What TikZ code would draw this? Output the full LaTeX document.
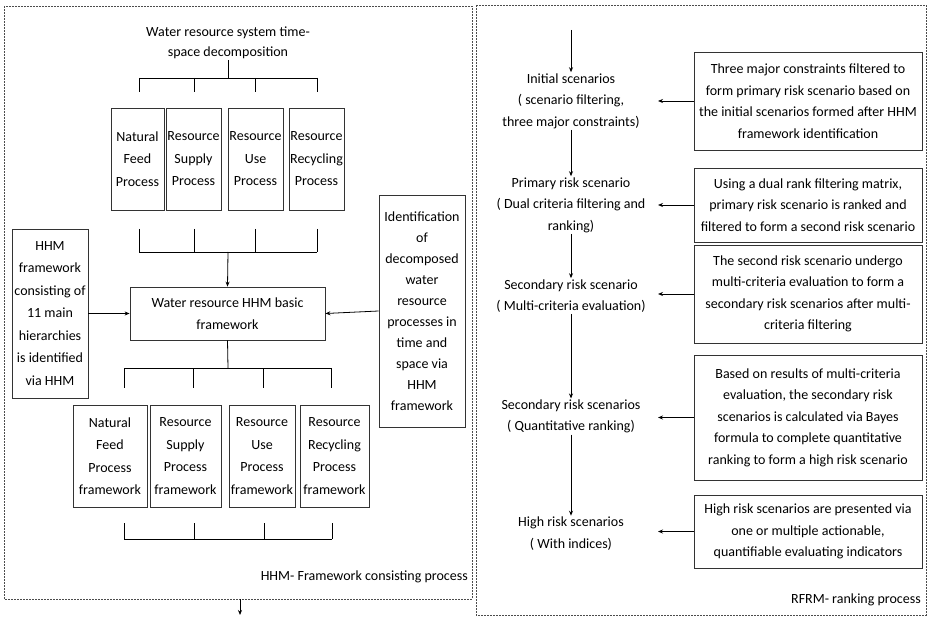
\documentclass[tikz,border=0pt]{standalone}
\usepackage{fontspec}
\setmainfont{Carlito}
\usetikzlibrary{arrows.meta}

\tikzset{
  hbox/.style={draw=black!80, line width=0.8pt, align=center, inner sep=1pt, font=\fontsize{14}{22.5}\selectfont},
  rbox/.style={draw=black!80, line width=0.8pt, align=center, inner sep=1pt, minimum width=228pt, font=\fontsize{14}{21.5}\selectfont},
  scen/.style={align=center, inner sep=1pt, font=\fontsize{14}{21.5}\selectfont},
  arr/.style={-{Stealth[length=5pt,width=4pt]}, line width=0.8pt, draw=black},
  frame/.style={draw=black!70, line width=0.5pt, dash pattern=on 2pt off 1pt},
  tick/.style={line width=0.8pt, draw=black},
}

\begin{document}
\begin{tikzpicture}[x=1pt,y=-1pt,font=\fontsize{14}{21}\selectfont]
\useasboundingbox[fill=white] (0,0) rectangle (928,617);
% Drawing frames
\draw[frame] (4,6) rectangle (472,599);
\draw[frame] (476,5) rectangle (926,615);
\node[anchor=east, inner sep=0pt] (hhmlabel) at (468,577) {HHM- Framework consisting process};
\node[anchor=east, inner sep=0pt] (rfrmlabel) at (921,600) {RFRM- ranking process};
% Done with frames; drawing HHM part
% Line 1: decomposition
\node[align=center, inner sep=1pt, font=\fontsize{14}{20}\selectfont] (title) at (228,43) {Water resource system time-\\space decomposition};
\coordinate (b1) at (228,78);
\draw[tick] (title.south) -- (b1);
\draw[tick] (139,78) -- (317,78);
\foreach \x in {139,194,255,317}
  \draw[tick] (\x,78) -- (\x,92);
% Line 2: processes
\node[hbox, minimum width=53pt, minimum height=102pt] (nfp) at (137.5,159) {Natural\\Feed\\Process};
\node[hbox, minimum width=55pt, minimum height=102pt] (rsp) at (193.5,159) {Resource\\Supply\\Process};
\node[hbox, minimum width=55pt, minimum height=102pt] (rup) at (255.5,159) {Resource\\Use\\Process};
\node[hbox, minimum width=55pt, minimum height=102pt] (rrp) at (316.5,159) {Resource\\Recycling\\Process};
\foreach \x in {139,194,255,317}
  \draw[tick] (\x,229) -- (\x,252);
\draw[tick] (139,252) -- (317,252);
\coordinate (b2) at (228,252);
% Line 3: basic framework
\node[hbox, minimum width=195pt, minimum height=53pt] (basic) at (227.5,313.5) {Water resource HHM basic\\framework};
\node[hbox, minimum width=76pt, minimum height=169pt] (hhm) at (50,313.5) {HHM\\framework\\consisting of\\11 main\\hierarchies\\is identified\\via HHM};
\node[hbox, minimum width=86pt, minimum height=232pt, font=\fontsize{14}{21}\selectfont] (ident) at (422,311) {Identification\\of\\decomposed\\water\\resource\\processes in\\time and\\space via\\HHM\\framework};
\draw[arr] (b2) -- (basic.north);
\draw[arr] (hhm.east) -- (basic.west);
\draw[arr] (ident.west) -- (basic.east);
% Line 4: process frameworks
\coordinate (b3) at (228,368);
\draw[tick] (basic.south) -- (b3);
\draw[tick] (124,368) -- (331,368);
\foreach \x in {124,193,263,331}
  \draw[tick] (\x,368) -- (\x,388);
\node[hbox, minimum width=74pt, minimum height=102pt] (nff) at (110,456) {Natural\\Feed\\Process\\framework};
\node[hbox, minimum width=71pt, minimum height=102pt] (rsf) at (185.5,456) {Resource\\Supply\\Process\\framework};
\node[hbox, minimum width=66pt, minimum height=102pt] (ruf) at (262,456) {Resource\\Use\\Process\\framework};
\node[hbox, minimum width=69pt, minimum height=102pt] (rrf) at (334.5,456) {Resource\\Recycling\\Process\\framework};
\foreach \x in {124,194,264,332}
  \draw[tick] (\x,523) -- (\x,539);
\draw[tick] (124,539) -- (332,539);
\coordinate (lout) at (240,599);
\coordinate (rout) at (240,615);
\draw[arr] (lout) -- (rout);
% Done with HHM part; drawing RFRM part
% Line 5: scenarios
\coordinate (rin) at (571,30);
\node[scen] (init) at (571,101) {Initial scenarios\\( scenario filtering,\\three major constraints)};
\node[scen] (prim) at (571,205) {Primary risk scenario\\( Dual criteria filtering and\\ranking)};
\node[scen] (sec) at (571,296) {Secondary risk scenario\\( Multi-criteria evaluation)};
\node[scen] (secs) at (571,416.5) {Secondary risk scenarios\\( Quantitative ranking)};
\node[scen] (high) at (571,533.5) {High risk scenarios\\( With indices)};
\draw[arr] (rin) -- (init.north);
\draw[arr] (init.south) -- (prim.north);
\draw[arr] (prim.south) -- (sec.north);
\draw[arr] (sec.south) -- (secs.north);
\draw[arr] (secs.south) -- (high.north);
% Line 6: comments
\node[rbox, minimum height=98pt] (c1) at (808,101) {Three major constraints filtered to\\form primary risk scenario based on\\the initial scenarios formed after HHM\\framework identification};
\node[rbox, minimum height=74pt] (c2) at (808,205) {Using a dual rank filtering matrix,\\primary risk scenario is ranked and\\filtered to form a second risk scenario};
\node[rbox, minimum height=98pt] (c3) at (808,294) {The second risk scenario undergo\\multi-criteria evaluation to form a\\secondary risk scenarios after multi-\\criteria filtering};
\node[rbox, minimum height=125pt] (c4) at (808,417.5) {Based on results of multi-criteria\\evaluation, the secondary risk\\scenarios is calculated via Bayes\\formula to complete quantitative\\ranking to form a high risk scenario};
\node[rbox, minimum height=73pt] (c5) at (808,531.5) {High risk scenarios are presented via\\one or multiple actionable,\\quantifiable evaluating indicators};
\coordinate (e1) at (658,101);
\coordinate (e2) at (658,205);
\coordinate (e3) at (658,294);
\coordinate (e4) at (658,417.5);
\coordinate (e5) at (658,531.5);
\foreach \i in {1,...,5}
  \draw[arr] (c\i.west) -- (e\i);
% Done with comments
\end{tikzpicture}
\end{document}
